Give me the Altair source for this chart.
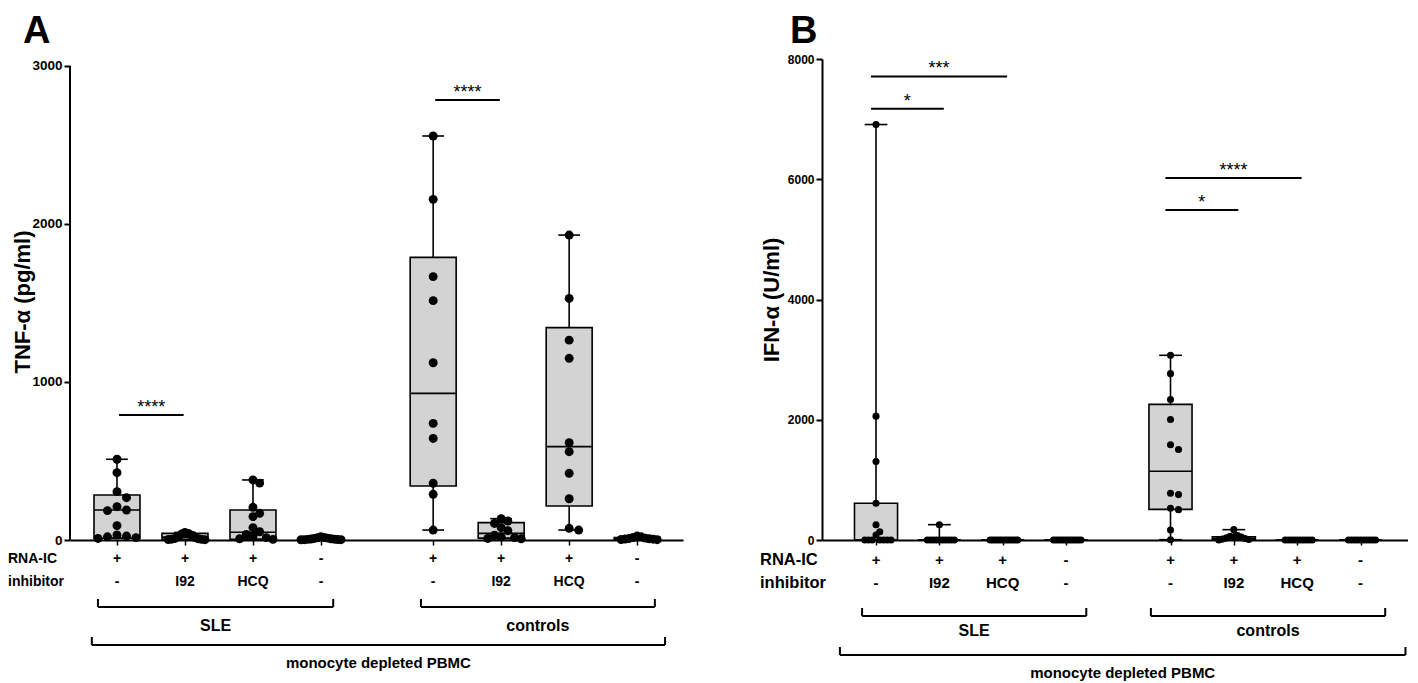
import altair as alt
import pandas as pd

# ---------------- data ----------------
positions = [0, 1, 2, 3, 4.65, 5.65, 6.65, 7.65]
rna_ic_row = ["+", "+", "+", "-", "+", "+", "+", "-"]
inhibitor_row = ["-", "I92", "HCQ", "-", "-", "I92", "HCQ", "-"]

# Panel A: TNF-alpha (pg/ml)
tnf_values = [
    [511, 426, 306, 268, 211, 190, 186, 91, 32, 25, 20, 15, 10],
    [48, 42, 38, 30, 22, 15, 10, 8, 5, 4, 3, 2],
    [380, 360, 207, 169, 148, 78, 52, 35, 22, 15, 8, 4],
    [20, 16, 14, 12, 10, 8, 6, 5, 4, 3, 2, 2, 1],
    [2557, 2156, 1667, 1515, 1122, 738, 643, 359, 289, 63],
    [135, 120, 105, 78, 59, 30, 20, 15, 10, 8],
    [1930, 1529, 1265, 1150, 616, 559, 422, 261, 74, 63],
    [25, 20, 16, 12, 10, 8, 6, 5, 3, 2],
]
tnf_min = [10, 2, 4, 1, 63, 8, 63, 2]
tnf_q1 = [12, 4, 5, 2, 342, 12, 215, 3]
tnf_median = [190, 18, 49, 6, 928, 42, 591, 8]
tnf_q3 = [285, 42, 190, 12, 1789, 110, 1344, 15]
tnf_max = [511, 48, 380, 20, 2557, 135, 1930, 25]
tnf_sig_from = [0, 4]
tnf_sig_to = [1, 5]
tnf_sig_y = [791, 2785]
tnf_sig_label = ["****", "****"]
tnf_ticks = [0, 1000, 2000, 3000]

# Panel B: IFN-alpha (U/ml)
ifn_values = [
    [6910, 2060, 1305, 610, 255, 138, 83, 0, 0, 0, 0, 0, 0, 0],
    [255, 0, 0, 0, 0, 0, 0, 0, 0, 0, 0],
    [0, 0, 0, 0, 0, 0, 0, 0, 0, 0, 0, 0],
    [0, 0, 0, 0, 0, 0, 0, 0, 0, 0, 0, 0],
    [3072, 2767, 2338, 2005, 1583, 1505, 777, 755, 527, 505, 167, 5],
    [172, 75, 60, 50, 42, 35, 25, 15, 8, 0],
    [0, 0, 0, 0, 0, 0, 0, 0, 0, 0],
    [0, 0, 0, 0, 0, 0, 0, 0, 0, 0],
]
ifn_min = [0, 0, 0, 0, 5, 0, 0, 0]
ifn_q1 = [0, 0, 0, 0, 510, 5, 0, 0]
ifn_median = [0, 0, 0, 0, 1143, 30, 0, 0]
ifn_q3 = [610, 0, 0, 0, 2255, 55, 0, 0]
ifn_max = [6910, 255, 0, 0, 3072, 172, 0, 0]
ifn_sig_from = [0, 0, 4, 4]
ifn_sig_to = [2, 1, 6, 5]
ifn_sig_y = [7710, 7172, 6022, 5488]
ifn_sig_label = ["***", "*", "****", "*"]
ifn_ticks = [0, 2000, 4000, 6000, 8000]

group_labels = ["SLE", "controls"]
outer_label = "monocyte depleted PBMC"

FONT = "Liberation Sans"


def swarm_offsets(vals, ypx, diam, maxhalf):
    placed, offs = [], []
    cands = [0.0]
    for i in range(1, 30):
        cands += [i * diam, -i * diam]
    for v in vals:
        y = v * ypx
        chosen = cands[-1]
        for c in cands:
            if all((c - px) ** 2 + (y - py) ** 2 >= (0.92 * diam) ** 2 for px, py in placed):
                chosen = c
                break
        placed.append((chosen, y))
        offs.append(chosen)
    m = max(abs(o) for o in offs)
    if m > maxhalf:
        offs = [o * maxhalf / m for o in offs]
    return offs


def make_panel(c):
    W, H = c["width"], c["height"]
    x0, x1 = c["xdom"]
    ymax = c["ymax"]
    xunit = W / (x1 - x0)
    ypx = H / ymax
    xs = alt.Scale(domain=[x0, x1], nice=False, zero=False)
    ys = alt.Scale(domain=[0, ymax], nice=False, zero=True)

    pts = []
    for i, vals in enumerate(c["values"]):
        offs = swarm_offsets(vals, ypx, c["diam"], c["maxhalf"])
        for v, o in zip(vals, offs):
            pts.append({"x": positions[i] + o / xunit, "y": v})
    pts = pd.DataFrame(pts)

    hw, cw = c["box_half"], c["cap_half"]
    box = pd.DataFrame({
        "pos": positions,
        "xl": [p - hw for p in positions], "xr": [p + hw for p in positions],
        "cl": [p - cw for p in positions], "cr": [p + cw for p in positions],
        "mn": c["mn"], "q1": c["q1"], "med": c["med"], "q3": c["q3"], "mx": c["mx"],
    })
    sig = pd.DataFrame({
        "x1": [positions[a] + c["sig_l"] for a in c["sig_from"]],
        "x2": [positions[b] + c["sig_r"] for b in c["sig_to"]],
        "y": c["sig_y"], "label": c["sig_label"],
    })
    sig["xm"] = (sig["x1"] + sig["x2"]) / 2
    rows = pd.DataFrame({"pos": positions, "rna": rna_ic_row, "inh": inhibitor_row})
    bl, br = c["brackets"]
    brk = pd.DataFrame({"x1": [bl[0], bl[2]], "x2": [bl[1], bl[3]], "label": group_labels})
    brk["xm"] = (brk["x1"] + brk["x2"]) / 2
    big = pd.DataFrame({"x1": [br[0]], "x2": [br[1]], "label": [outer_label]})
    big["xm"] = (big["x1"] + big["x2"]) / 2

    x_axis = alt.Axis(values=positions, labels=False, ticks=True, tickSize=5, tickWidth=1.5,
                      tickColor="black", domainColor="black", domainWidth=2, grid=False, title=None)
    y_axis = alt.Axis(values=c["yticks"], format="d", labelFontSize=c["tick_fs"], labelFontWeight="bold",
                      labelColor="black", labelFont=FONT, labelPadding=2, tickSize=6, tickWidth=2,
                      tickColor="black", domain=c["y_domain_line"], domainColor="black", domainWidth=2,
                      grid=False, title=None)

    X = lambda f: alt.X(f, title=None)
    Y = lambda f: alt.Y(f, title=None)

    layers = []
    layers.append(alt.Chart(box).mark_rect(fill="#d3d3d3", stroke="black", strokeWidth=1.6).encode(
        x=alt.X("xl:Q", scale=xs, axis=x_axis), x2="xr:Q",
        y=alt.Y("q1:Q", scale=ys, axis=y_axis), y2="q3:Q"))
    layers.append(alt.Chart(box).mark_rule(color="black", strokeWidth=1.6).encode(
        x=X("pos:Q"), y=Y("q3:Q"), y2="mx:Q"))
    layers.append(alt.Chart(box).mark_rule(color="black", strokeWidth=1.6).encode(
        x=X("pos:Q"), y=Y("mn:Q"), y2="q1:Q"))
    layers.append(alt.Chart(box).mark_rule(color="black", strokeWidth=1.6).encode(
        x=X("cl:Q"), x2="cr:Q", y=Y("mx:Q")))
    layers.append(alt.Chart(box).mark_rule(color="black", strokeWidth=1.6).encode(
        x=X("cl:Q"), x2="cr:Q", y=Y("mn:Q")))
    layers.append(alt.Chart(box).mark_rule(color="black", strokeWidth=1.6).encode(
        x=X("xl:Q"), x2="xr:Q", y=Y("med:Q")))
    layers.append(alt.Chart(pts).mark_circle(color="black", opacity=1, size=c["dot"]).encode(
        x=X("x:Q"), y=Y("y:Q")))
    if not c["y_domain_line"]:
        layers.append(alt.Chart(pd.DataFrame({"a": [0], "b": [c["yticks"][-1]]})).mark_rule(
            color="black", strokeWidth=2).encode(x=alt.value(0), y=Y("a:Q"), y2="b:Q"))
    # significance bars
    layers.append(alt.Chart(sig).mark_rule(color="black", strokeWidth=2).encode(
        x=X("x1:Q"), x2="x2:Q", y=Y("y:Q")))
    layers.append(alt.Chart(sig).mark_text(fontSize=18, font=FONT, color="black", dy=-2,
                                           baseline="alphabetic").encode(
        x=X("xm:Q"), y=Y("y:Q"), text="label:N"))
    # condition rows
    rf = c["row_fs"]
    layers.append(alt.Chart(rows).mark_text(fontSize=rf, fontWeight="bold", font=FONT, color="black",
                                            baseline="middle").encode(
        x=X("pos:Q"), y=alt.value(H + c["r1"]), text="rna:N"))
    layers.append(alt.Chart(rows).mark_text(fontSize=rf, fontWeight="bold", font=FONT, color="black",
                                            baseline="middle").encode(
        x=X("pos:Q"), y=alt.value(H + c["r2"]), text="inh:N"))
    layers.append(alt.Chart(pd.DataFrame({"t": ["RNA-IC"]})).mark_text(
        fontSize=c["lab_fs"], fontWeight="bold", font=FONT, color="black", align="left",
        baseline="middle").encode(x=alt.value(c["lab_x"]), y=alt.value(H + c["r1"]), text="t:N"))
    layers.append(alt.Chart(pd.DataFrame({"t": ["inhibitor"]})).mark_text(
        fontSize=c["lab_fs"], fontWeight="bold", font=FONT, color="black", align="left",
        baseline="middle").encode(x=alt.value(c["lab_x"]), y=alt.value(H + c["r2"]), text="t:N"))
    # group brackets
    gb = c["gb"]
    layers.append(alt.Chart(brk).mark_rule(color="black", strokeWidth=2).encode(
        x=X("x1:Q"), x2="x2:Q", y=alt.value(H + gb)))
    layers.append(alt.Chart(brk).mark_rule(color="black", strokeWidth=2).encode(
        x=X("x1:Q"), y=alt.value(H + gb - 8), y2=alt.value(H + gb)))
    layers.append(alt.Chart(brk).mark_rule(color="black", strokeWidth=2).encode(
        x=X("x2:Q"), y=alt.value(H + gb - 8), y2=alt.value(H + gb)))
    layers.append(alt.Chart(brk).mark_text(fontSize=16, fontWeight="bold", font=FONT, color="black",
                                           baseline="middle").encode(
        x=X("xm:Q"), y=alt.value(H + c["gt"]), text="label:N"))
    ob = c["ob"]
    layers.append(alt.Chart(big).mark_rule(color="black", strokeWidth=2).encode(
        x=X("x1:Q"), x2="x2:Q", y=alt.value(H + ob)))
    layers.append(alt.Chart(big).mark_rule(color="black", strokeWidth=2).encode(
        x=X("x1:Q"), y=alt.value(H + ob - 8), y2=alt.value(H + ob)))
    layers.append(alt.Chart(big).mark_rule(color="black", strokeWidth=2).encode(
        x=X("x2:Q"), y=alt.value(H + ob - 8), y2=alt.value(H + ob)))
    layers.append(alt.Chart(big).mark_text(fontSize=15, fontWeight="bold", font=FONT, color="black",
                                           baseline="middle").encode(
        x=X("xm:Q"), y=alt.value(H + c["ot"]), text="label:N"))
    # panel letter and y title
    layers.append(alt.Chart(pd.DataFrame({"t": [c["letter"]]})).mark_text(
        fontSize=38, fontWeight="bold", font=FONT, color="black", align="left",
        baseline="alphabetic").encode(x=alt.value(c["letter_x"]), y=alt.value(-16), text="t:N"))
    layers.append(alt.Chart(pd.DataFrame({"t": [c["ytitle"]]})).mark_text(
        fontSize=22, fontWeight="bold", font=FONT, color="black", align="center",
        baseline="middle", angle=270).encode(x=alt.value(c["ytitle_x"]), y=alt.value(c["ytitle_y"]),
                                             text="t:N"))
    return alt.layer(*layers).properties(width=W, height=H)


panel_a = make_panel(dict(
    width=613, height=481, xdom=[-0.691, 8.324], ymax=3044.3, yticks=tnf_ticks, y_domain_line=False,
    tick_fs=13.5, values=tnf_values, mn=tnf_min, q1=tnf_q1, med=tnf_median, q3=tnf_q3, mx=tnf_max,
    diam=9.5, maxhalf=20, dot=80, box_half=0.338, cap_half=0.16,
    sig_from=tnf_sig_from, sig_to=tnf_sig_to, sig_y=tnf_sig_y, sig_label=tnf_sig_label,
    sig_l=0.03, sig_r=-0.02,
    row_fs=14, lab_fs=14, lab_x=-62, r1=19, r2=42,
    brackets=([positions[0] - 0.28, positions[3] + 0.18, positions[4] - 0.18, positions[7] + 0.26],
              [positions[0] - 0.37, positions[7] + 0.41]),
    gb=67, gt=86, ob=105, ot=123,
    letter="A", letter_x=-47, ytitle="TNF-α (pg/ml)", ytitle_x=-47, ytitle_y=243,
))

panel_b = make_panel(dict(
    width=586, height=481, xdom=[-0.853, 8.40], ymax=8000, yticks=ifn_ticks, y_domain_line=True,
    tick_fs=12, values=ifn_values, mn=ifn_min, q1=ifn_q1, med=ifn_median, q3=ifn_q3, mx=ifn_max,
    diam=8, maxhalf=15, dot=50, box_half=0.34, cap_half=0.18,
    sig_from=ifn_sig_from, sig_to=ifn_sig_to, sig_y=ifn_sig_y, sig_label=ifn_sig_label,
    sig_l=-0.08, sig_r=0.07,
    row_fs=15, lab_fs=16.5, lab_x=-62, r1=20, r2=43,
    brackets=([positions[0] - 0.22, positions[3] + 0.32, positions[4] - 0.31, positions[7] + 0.39],
              [positions[0] - 0.57, positions[7] + 0.71]),
    gb=76, gt=91, ob=115, ot=133,
    letter="B", letter_x=-32, ytitle="IFN-α (U/ml)", ytitle_x=-50, ytitle_y=241,
))

chart = alt.hconcat(panel_a, panel_b, spacing=139, bounds="flush",
                    padding={"left": 0, "top": 5, "right": 0, "bottom": 0}).configure(
    font=FONT, background="white",
    view=alt.ViewConfig(stroke="transparent", strokeWidth=0))

chart.save("out.html", embed_options={"renderer": "svg", "actions": False})
